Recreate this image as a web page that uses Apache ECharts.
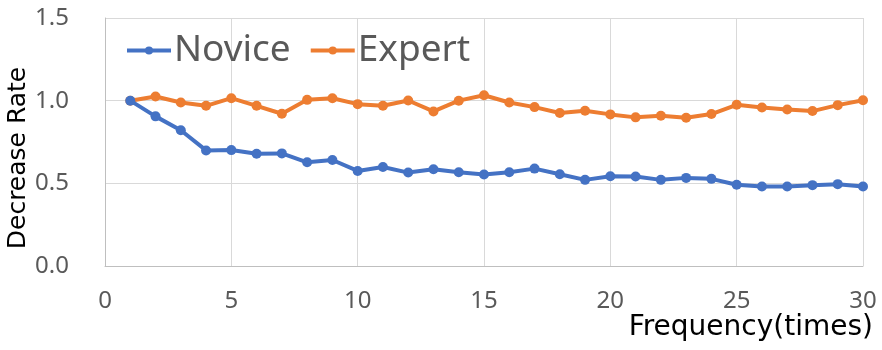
<!DOCTYPE html>
<html>
<head>
<meta charset="utf-8">
<script src="https://cdn.jsdelivr.net/npm/echarts@6/dist/echarts.min.js"></script>
<style>html,body{margin:0;padding:0;background:#fff}#c{width:882px;height:350px}</style>
</head>
<body>
<div id="c"></div>
<script>
const frequency = [1,2,3,4,5,6,7,8,9,10,11,12,13,14,15,16,17,18,19,20,21,22,23,24,25,26,27,28,29,30];
const novice = [1.0,0.905,0.821,0.699,0.701,0.679,0.681,0.627,0.641,0.575,0.599,0.565,0.585,0.567,0.553,0.567,0.589,0.555,0.521,0.543,0.541,0.521,0.533,0.527,0.491,0.481,0.481,0.489,0.495,0.481];
const expert = [1.0,1.025,0.989,0.969,1.015,0.969,0.921,1.005,1.015,0.979,0.969,1.001,0.935,1.0,1.033,0.989,0.961,0.925,0.939,0.917,0.899,0.909,0.897,0.919,0.975,0.959,0.947,0.937,0.973,1.003];
const seriesNames = ['Novice','Expert'];
const xTicks = [0,5,10,15,20,25,30];
const yTicks = [0.0,0.5,1.0,1.5];

const font = '"Noto Sans", sans-serif';
const titleFont = '"DejaVu Sans", sans-serif';
const chart = echarts.init(document.getElementById('c'), null, {renderer:'canvas'});
function pairs(v){ return frequency.map((f,i)=>[f,v[i]]); }
chart.setOption({
  animation:false,
  backgroundColor:'#fff',
  grid:{left:105,right:19,top:18,bottom:84,containLabel:false,outerBoundsMode:'none'},
  legend:{
    left:120, top:27, itemWidth:44, itemHeight:10, itemGap:18,
    lineStyle:{width:4},
    textStyle:{fontFamily:font,fontSize:37,color:'#595959',padding:[0,0,0,-2]},
    data:seriesNames
  },
  xAxis:{
    type:'value', min:0, max:30, interval:5,
    axisLine:{show:true,lineStyle:{color:'#BFBFBF',width:1}},
    axisTick:{show:false},
    splitLine:{show:true,lineStyle:{color:'#D9D9D9',width:1}},
    axisLabel:{fontFamily:font,fontSize:24,color:'#595959',margin:23,
      formatter:v=>xTicks.includes(v)?String(v):''},
    name:'Frequency(times)', nameLocation:'end', nameMoveOverlap:false,
    nameTextStyle:{fontFamily:titleFont,fontSize:28,color:'#000',align:'right',verticalAlign:'top',padding:[48,-10,0,0]},
    nameGap:0
  },
  yAxis:{
    type:'value', min:0, max:1.5, interval:0.5,
    axisLine:{show:true,lineStyle:{color:'#BFBFBF',width:1}},
    axisTick:{show:false},
    splitLine:{show:true,lineStyle:{color:'#D9D9D9',width:1}},
    axisLabel:{fontFamily:font,fontSize:24,color:'#595959',margin:36,
      formatter:v=>yTicks.some(t=>Math.abs(t-v)<1e-9)?v.toFixed(1):''},
    name:'Decrease Rate', nameLocation:'middle', nameGap:74, nameMoveOverlap:false,
    nameTextStyle:{fontFamily:titleFont,fontSize:25,color:'#000',padding:[0,32,0,0]}
  },
  series:[
    {name:seriesNames[0],type:'line',data:pairs(novice),symbol:'circle',symbolSize:10,
     lineStyle:{width:4,color:'#4472C4'},itemStyle:{color:'#4472C4'},z:3},
    {name:seriesNames[1],type:'line',data:pairs(expert),symbol:'circle',symbolSize:10,
     lineStyle:{width:4,color:'#ED7D31'},itemStyle:{color:'#ED7D31'},z:2}
  ]
});
</script>
</body>
</html>
